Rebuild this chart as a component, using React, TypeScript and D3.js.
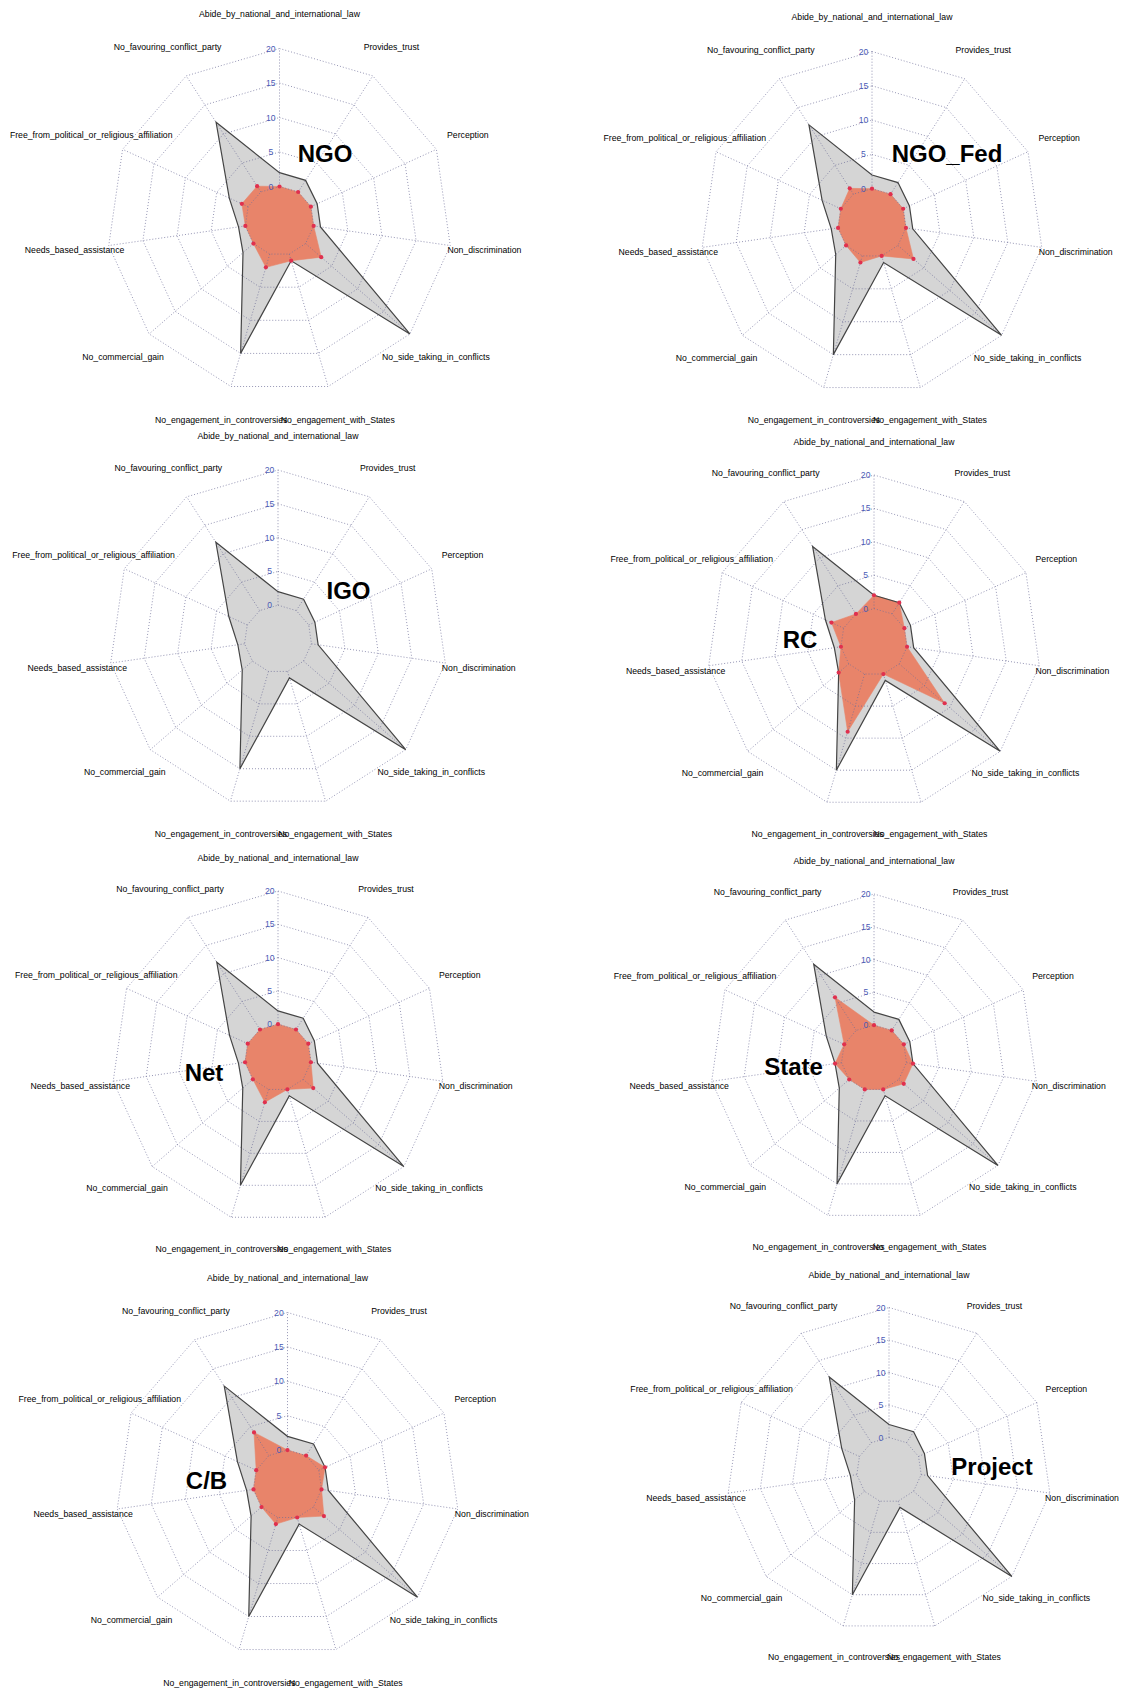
import React from "react";
import * as d3 from "d3";

// Axis names, clockwise from the top
const axes = [
  "Abide_by_national_and_international_law",
  "Provides_trust",
  "Perception",
  "Non_discrimination",
  "No_side_taking_in_conflicts",
  "No_engagement_with_States",
  "No_engagement_in_controversies",
  "No_commercial_gain",
  "Needs_based_assistance",
  "Free_from_political_or_religious_affiliation",
  "No_favouring_conflict_party",
];

// Grey reference polygon (total over all groups)
const totalCounts = [2, 2, 1, 1, 20, 1, 15, 2, 1, 3, 12];

// Group series (null = no series drawn)
const groupNames = ["NGO", "NGO_Fed", "IGO", "RC", "Net", "State", "C/B", "Project"];
const ngoValues = [0, 0, 0, 0, 3, 1, 2, 0, 0, 1, 1];
const ngoFedValues = [0, 0, 0, 0, 3, 0, 1, 0, 0, 0, 1];
const igoValues: number[] | null = null;
const rcValues = [2, 2, 0, 0, 9, 0, 9, 2, 0, 2, 0];
const netValues = [0, 0, 0, 0, 2, 0, 2, 0, 0, 0, 0];
const stateValues = [0, 0, 0, 1, 1, 0, 0, 0, 1, 0, 6];
const cbValues = [0, 0, 1, 0, 2, 0, 1, 0, 0, 0, 4];
const projectValues: number[] | null = null;
const groupValues = [ngoValues, ngoFedValues, igoValues, rcValues, netValues, stateValues, cbValues, projectValues];

const tickValues = [0, 5, 10, 15, 20];
const scaleMin = -5;
const scaleMax = 20;

// Layout of each panel: centre, radius, title position
const panels = [
  { cx: 279.5, cy: 221, r: 172.5, tx: 325, ty: 162 },
  { cx: 872, cy: 223, r: 171.5, tx: 947, ty: 162 },
  { cx: 278, cy: 639, r: 169, tx: 348.5, ty: 599 },
  { cx: 874, cy: 642, r: 167, tx: 800, ty: 648 },
  { cx: 278, cy: 1057.5, r: 166.5, tx: 204, ty: 1081 },
  { cx: 874, cy: 1058, r: 164, tx: 793.5, ty: 1075 },
  { cx: 287.5, cy: 1484.5, r: 172, tx: 206.5, ty: 1489 },
  { cx: 889, cy: 1470, r: 162.5, tx: 992, ty: 1475 },
];

const FONT = "'Liberation Sans', Arial, sans-serif";
const GRID = "#6e6e98";

function Radar({ idx }: { idx: number }) {
  const p = panels[idx];
  const n = axes.length;
  const angle = d3.scaleLinear().domain([0, n]).range([0, 2 * Math.PI]);
  const rScale = d3.scaleLinear().domain([scaleMin, scaleMax]).range([0, p.r]);
  const pt = (i: number, v: number) => {
    const a = angle(i);
    const rr = rScale(v);
    return [p.cx + rr * Math.sin(a), p.cy - rr * Math.cos(a)];
  };
  const radial = d3
    .lineRadial<number>()
    .angle((_, i) => angle(i))
    .radius((d) => rScale(d))
    .curve(d3.curveLinearClosed);
  const vals = groupValues[idx];
  const idxs = d3.range(n);
  return (
    <g>
      <path d={radial(totalCounts) || ""} transform={`translate(${p.cx},${p.cy})`} fill="#d5d5d5" stroke="none" />
      {vals && (
        <path d={radial(vals) || ""} transform={`translate(${p.cx},${p.cy})`} fill="#E8846A" stroke="#E8846A" strokeWidth={0.6} />
      )}
      {tickValues.map((t) => (
        <path
          key={"ring" + t}
          d={radial(idxs.map(() => t)) || ""}
          transform={`translate(${p.cx},${p.cy})`}
          fill="none"
          stroke={GRID}
          strokeWidth={0.9}
          strokeDasharray="1 2"
          opacity={0.8}
        />
      ))}
      {idxs.map((i) => {
        const [x1, y1] = pt(i, tickValues[0]);
        const [x2, y2] = pt(i, scaleMax);
        return (
          <line key={"sp" + i} x1={x1} y1={y1} x2={x2} y2={y2} stroke={GRID} strokeWidth={0.9} strokeDasharray="1 2" opacity={0.8} />
        );
      })}
      <path d={radial(totalCounts) || ""} transform={`translate(${p.cx},${p.cy})`} fill="none" stroke="#444" strokeWidth={1.2} />
      {vals &&
        vals.map((v, i) => {
          const [x, y] = pt(i, v);
          return <circle key={"pt" + i} cx={x} cy={y} r={2.1} fill="#E0304E" />;
        })}
      {tickValues.map((t) => (
        <text
          key={"tl" + t}
          x={p.cx - 0.05 * p.r}
          y={p.cy - rScale(t)}
          fontSize={8.6}
          fontFamily={FONT}
          fill="#4a5ab5"
          textAnchor="middle"
          dominantBaseline="central"
        >
          {t}
        </text>
      ))}
      {axes.map((name, i) => {
        const a = angle(i);
        const rr = p.r * 1.2;
        return (
          <text
            key={"al" + i}
            x={p.cx + rr * Math.sin(a)}
            y={p.cy - rr * Math.cos(a)}
            fontSize={8.7}
            fontFamily={FONT}
            fill="#000"
            textAnchor="middle"
            dominantBaseline="central"
          >
            {name}
          </text>
        );
      })}
      <text x={p.tx} y={p.ty} fontSize={24} fontWeight="bold" fontFamily={FONT} fill="#000" textAnchor="middle">
        {groupNames[idx]}
      </text>
    </g>
  );
}

export default function App() {
  return (
    <div style={{ position: "absolute", left: 0, top: 0 }}>
      <svg width={1121} height={1690} style={{ display: "block", background: "#fff" }}>
        <rect width={1121} height={1690} fill="#fff" />
        {panels.map((_, i) => (
          <Radar key={i} idx={i} />
        ))}
      </svg>
    </div>
  );
}
